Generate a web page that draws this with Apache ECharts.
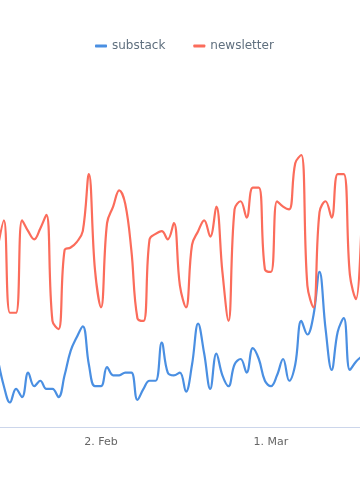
<!DOCTYPE html>
<html>
<head>
<meta charset="utf-8">
<script src="https://cdn.jsdelivr.net/npm/echarts@6/dist/echarts.min.js"></script>
<style>
html,body{margin:0;padding:0;background:#fff;}
#c{width:360px;height:500px;}
</style>
</head>
<body>
<div id="c"></div>
<script>
// Daily values, 16 Jan 2020 .. 16 Mar 2020
var startDay = [2020, 0, 16];
var substack = [25,15,9,14,11,20,15,17,14,14,11,19,28,33,37,23,15,15,22,19,19,20,20,10,14,17,17,31,20,19,20,13,23,38,27,14,27,19,15,23,25,20,29,25,17,15,19,25,17,23,39,34,41,57,36,21,35,40,21,24,26];
var newsletter = [66,76,42,42,76,72,69,73,78,39,36,65,66,68,72,93,58,44,75,81,87,82,65,40,39,69,71,72,69,75,52,44,67,72,76,70,81,57,39,80,83,77,88,88,58,57,83,81,80,97,100,52,44,79,83,77,93,93,56,47,82];
var seriesNames = ['substack', 'newsletter'];
var tickDays = [[2020, 1, 2], [2020, 2, 1]];
var monthNames = ['Jan','Feb','Mar','Apr','May','Jun','Jul','Aug','Sep','Oct','Nov','Dec'];

function dayTime(i) {
  return new Date(startDay[0], startDay[1], startDay[2] + i).getTime();
}
function toPairs(arr) {
  return arr.map(function (v, i) { return [dayTime(i), v]; });
}
var tickValues = tickDays.map(function (d) { return new Date(d[0], d[1], d[2]).getTime(); });

var chart = echarts.init(document.getElementById('c'), null, {renderer: 'canvas'});
var xMin = new Date(2020, 0, 16, 8, 40).getTime();
var xMax = new Date(2020, 2, 15, 16, 3).getTime();

chart.setOption({
  animation: false,
  color: ['#4a8fe2', '#fb6c5b'],
  legend: {
    top: 35,
    left: 90,
    icon: 'roundRect',
    itemWidth: 12,
    itemHeight: 3,
    itemGap: 28,
    textStyle: {fontFamily: 'DejaVu Sans', fontSize: 12, color: '#5f6f7e'},
    data: seriesNames
  },
  grid: {left: 0, right: 0, top: 87, bottom: 73, containLabel: false},
  xAxis: {
    type: 'value',
    min: xMin,
    max: xMax,
    axisLine: {show: true, lineStyle: {color: '#ccd6eb', width: 1}},
    axisTick: {show: false},
    splitLine: {show: false},
    axisLabel: {
      customValues: tickValues,
      margin: 10,
      fontFamily: 'DejaVu Sans',
      fontSize: 11,
      color: '#666666',
      formatter: function (v) {
        var d = new Date(v);
        return d.getDate() + '. ' + monthNames[d.getMonth()];
      }
    }
  },
  yAxis: {
    type: 'value',
    min: 0,
    max: 125,
    show: false,
    splitLine: {show: false}
  },
  series: [
    {
      name: seriesNames[0], type: 'line', data: toPairs(substack),
      smooth: 0.4, showSymbol: false, symbol: 'none',
      lineStyle: {width: 2.2}
    },
    {
      name: seriesNames[1], type: 'line', data: toPairs(newsletter),
      smooth: 0.4, showSymbol: false, symbol: 'none',
      lineStyle: {width: 2.2}
    }
  ]
});
</script>
</body>
</html>
